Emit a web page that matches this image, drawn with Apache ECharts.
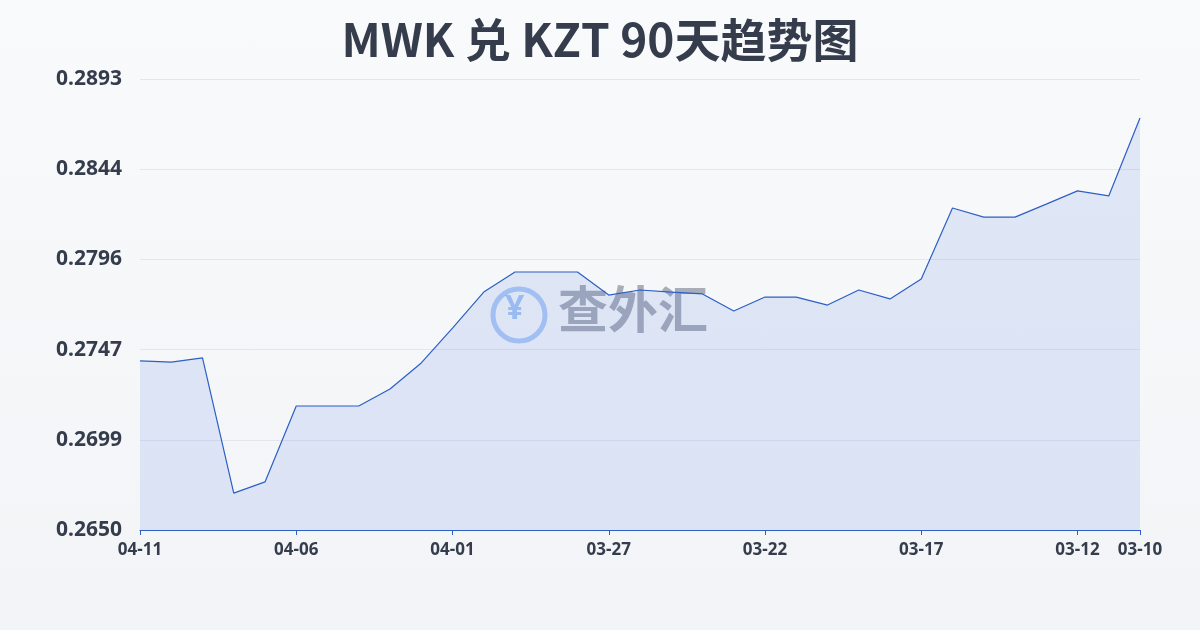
<!DOCTYPE html>
<html>
<head>
<meta charset="utf-8">
<script src="https://cdn.jsdelivr.net/npm/echarts@6/dist/echarts.min.js"></script>
<style>
  html, body { margin: 0; padding: 0; }
  #main { width: 1200px; height: 630px; background: linear-gradient(#f9fafb, #f2f4f7); }
</style>
</head>
<body>
<div id="main"></div>
<script>
// 日期（从近到远）
var dates = ['04-11','04-10','04-09','04-08','04-07','04-06','04-05','04-04','04-03','04-02','04-01',
  '03-31','03-30','03-29','03-28','03-27','03-26','03-25','03-24','03-23','03-22',
  '03-21','03-20','03-19','03-18','03-17','03-16','03-15','03-14','03-13','03-12','03-11','03-10'];
var rates = [0.27411,0.27405,0.27427,0.26699,0.26759,0.27168,0.27168,0.27168,0.27260,0.27400,0.27588,
  0.27782,0.27890,0.27890,0.27890,0.27766,0.27793,0.27782,0.27772,0.27680,0.27755,
  0.27755,0.27712,0.27793,0.27745,0.27852,0.28235,0.28186,0.28186,0.28256,0.28327,0.28300,0.28720];
var yMin = 0.2650, yMax = 0.2893;

var chart = echarts.init(document.getElementById('main'));
chart.setOption({
  textStyle: { fontFamily: 'Noto Sans' },
  title: {
    text: 'MWK 兑 KZT 90天趋势图',
    left: 'center', top: 12,
    textStyle: { fontSize: 46, fontWeight: 'bold', color: '#353d4d', fontFamily: 'Noto Sans CJK SC' }
  },
  grid: { left: 140, right: 60, top: 79, bottom: 100 },
  graphic: [{
    type: 'text', left: 505, top: 292,
    style: { text: '¥', fontSize: 34, fontWeight: 'bold', fill: 'rgba(90,150,240,0.5)', fontFamily: 'Noto Sans' }
  }, {
    type: 'circle', shape: { cx: 519, cy: 315, r: 26 },
    style: { fill: 'none', stroke: 'rgba(90,150,240,0.45)', lineWidth: 5 }
  }, {
    type: 'text', left: 558, top: 284,
    style: { text: '查外汇', fontSize: 50, fontWeight: 'bold', fill: 'rgba(90,100,120,0.5)', fontFamily: 'Noto Sans CJK SC' }
  }],
  xAxis: {
    type: 'category', boundaryGap: false, data: dates,
    axisLine: { lineStyle: { color: '#2d5fc4' } },
    axisTick: { show: true, interval: function (i) { return i % 5 === 0 || i === dates.length - 1; }, lineStyle: { color: '#2d5fc4' } },
    axisLabel: {
      interval: function (i) { return i % 5 === 0 || i === dates.length - 1; },
      color: '#353d4d', fontSize: 17, fontWeight: 'bold', margin: 12
    }
  },
  yAxis: {
    type: 'value', min: yMin, max: yMax, interval: (yMax - yMin) / 5,
    axisLabel: {
      formatter: function (v) { return v.toFixed(4); },
      color: '#353d4d', fontSize: 21, fontWeight: 'bold', margin: 18
    },
    splitLine: { lineStyle: { color: '#e3e6ec' } },
    axisLine: { show: false }
  },
  series: [{
    type: 'line', data: rates, symbol: 'none',
    lineStyle: { color: '#2d5fc4', width: 1.2 },
    areaStyle: { color: 'rgba(70,110,225,0.19)' }
  }]
});
</script>
</body>
</html>
